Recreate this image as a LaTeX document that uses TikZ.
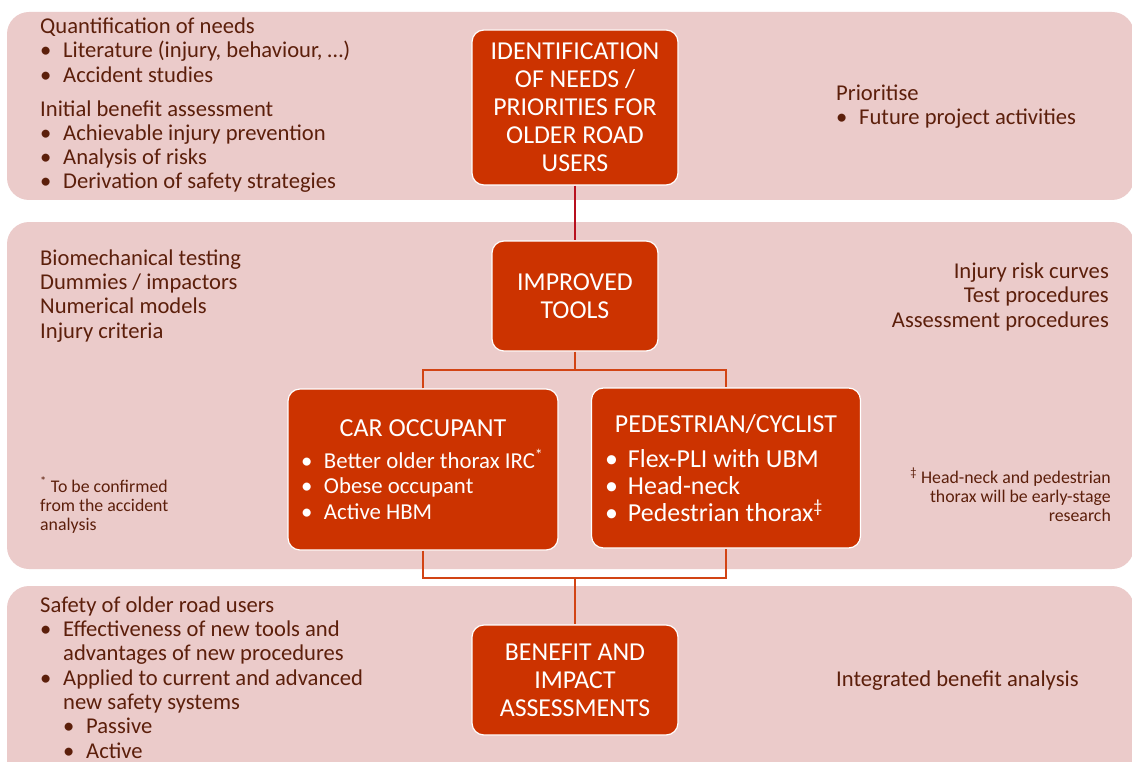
\documentclass[tikz,border=0pt]{standalone}
\usepackage{fontspec}
\setmainfont{Carlito}
\usetikzlibrary{positioning}
\definecolor{bandpink}{HTML}{EBCBCA}
\definecolor{boxred}{HTML}{CC3300}
\definecolor{ink}{HTML}{5C1F0B}
\definecolor{wire}{HTML}{D24414}
\definecolor{wiredark}{HTML}{B8101E}
\newcommand{\bul}{\makebox[23pt][l]{\textbullet}}
\newcommand{\fs}[2]{\fontsize{#1}{#2}\selectfont}

\begin{document}
\begin{tikzpicture}[x=1pt,y=-1pt,
 band/.style={fill=bandpink,rounded corners=22pt},
 box/.style={draw=white,line width=1.2pt,fill=boxred,rounded corners=12pt,text=white,align=center,inner sep=0pt},
 note/.style={text=ink,inner sep=0pt,font=\fs{22.6}{24.3}},
 link/.style={draw=wire,line width=2.2pt}]
 \clip (0,0) rectangle (1132,762);
 \fill[band] (7,12) rectangle (1134,200);
 \fill[band] (7,222) rectangle (1134,569);
 \fill[band] (7,586) rectangle (1134,800);

 % text in the bands (base = last line)
 \node[note,align=left,anchor=base west] (quant) at (40,189) {Quantification of needs\\
   \bul Literature (injury, behaviour, \dots)\\ \bul Accident studies\\[9.7pt]
   Initial benefit assessment\\ \bul Achievable injury prevention\\
   \bul Analysis of risks\\ \bul Derivation of safety strategies};
 \node[note,align=left,anchor=base west] (prio) at (836,125) {Prioritise\\ \bul Future project activities};
 \node[note,align=left,anchor=base west] (biom) at (40,338) {Biomechanical testing\\Dummies / impactors\\Numerical models\\Injury criteria};
 \node[note,align=right,anchor=base east] (curv) at (1109,327) {Injury risk curves\\Test procedures\\Assessment procedures};
 \node[note,align=left,anchor=base west,font=\fs{17.8}{19}] (fn1) at (40,530) {\textsuperscript{*} To be confirmed\\from the accident\\analysis};
 \node[note,align=right,anchor=base east,font=\fs{17.8}{19}] (fn2) at (1111,521) {\textsuperscript{\textdaggerdbl} Head-neck and pedestrian\\thorax will be early-stage\\research};
 \node[note,align=left,anchor=base west] (safe) at (40,758) {Safety of older road users\\
   \bul Effectiveness of new tools and\\ \hspace*{23pt}advantages of new procedures\\
   \bul Applied to current and advanced\\ \hspace*{23pt}new safety systems\\
   \hspace*{23pt}\bul Passive\\ \hspace*{23pt}\bul Active};
 \node[note,align=left,anchor=base west] (integ) at (836,686) {Integrated benefit analysis};

 % boxes and connectors
 \coordinate (split) at (575,370);
 \coordinate (join) at (575,578);
 \node[box,minimum width=206pt,minimum height=155pt,font=\fs{25.8}{28}] (need) at (575,107.5) {IDENTIFICATION\\OF NEEDS /\\PRIORITIES FOR\\OLDER ROAD\\USERS};
 \node[box,minimum width=166pt,minimum height=110pt,font=\fs{25.8}{28}] (tools) at (575,296) {IMPROVED\\TOOLS};
 \node[box,minimum width=270pt,minimum height=161pt,font=\fs{22.8}{25.5}] (car) at (423,469.5) {{\fs{26}{28}CAR OCCUPANT}\\[6pt]
   \makebox[244pt][l]{\bul Better older thorax IRC\textsuperscript{*}}\\
   \makebox[244pt][l]{\bul Obese occupant}\\ \makebox[244pt][l]{\bul Active HBM}};
 \node[box,minimum width=269pt,minimum height=160pt,font=\fs{25.9}{27}] (ped) at (726,468) {PEDESTRIAN/CYCLIST\\[8pt]
   \makebox[242pt][l]{\bul Flex-PLI with UBM}\\ \makebox[242pt][l]{\bul Head-neck}\\
   \makebox[242pt][l]{\bul Pedestrian thorax\textsuperscript{\textdaggerdbl}}};
 \node[box,minimum width=206pt,minimum height=110pt,font=\fs{25.8}{28}] (bene) at (575,680) {BENEFIT AND\\IMPACT\\ASSESSMENTS};
 \draw[link,draw=wiredark] (need) -- (tools);
 \draw[link] (tools) -- (split);
 \draw[link] (car.north) |- (split) -| (ped.north);
 \draw[link] (car.south) |- (join) -| (ped.south);
 \draw[link] (join) -- (bene);
\end{tikzpicture}
\end{document}
